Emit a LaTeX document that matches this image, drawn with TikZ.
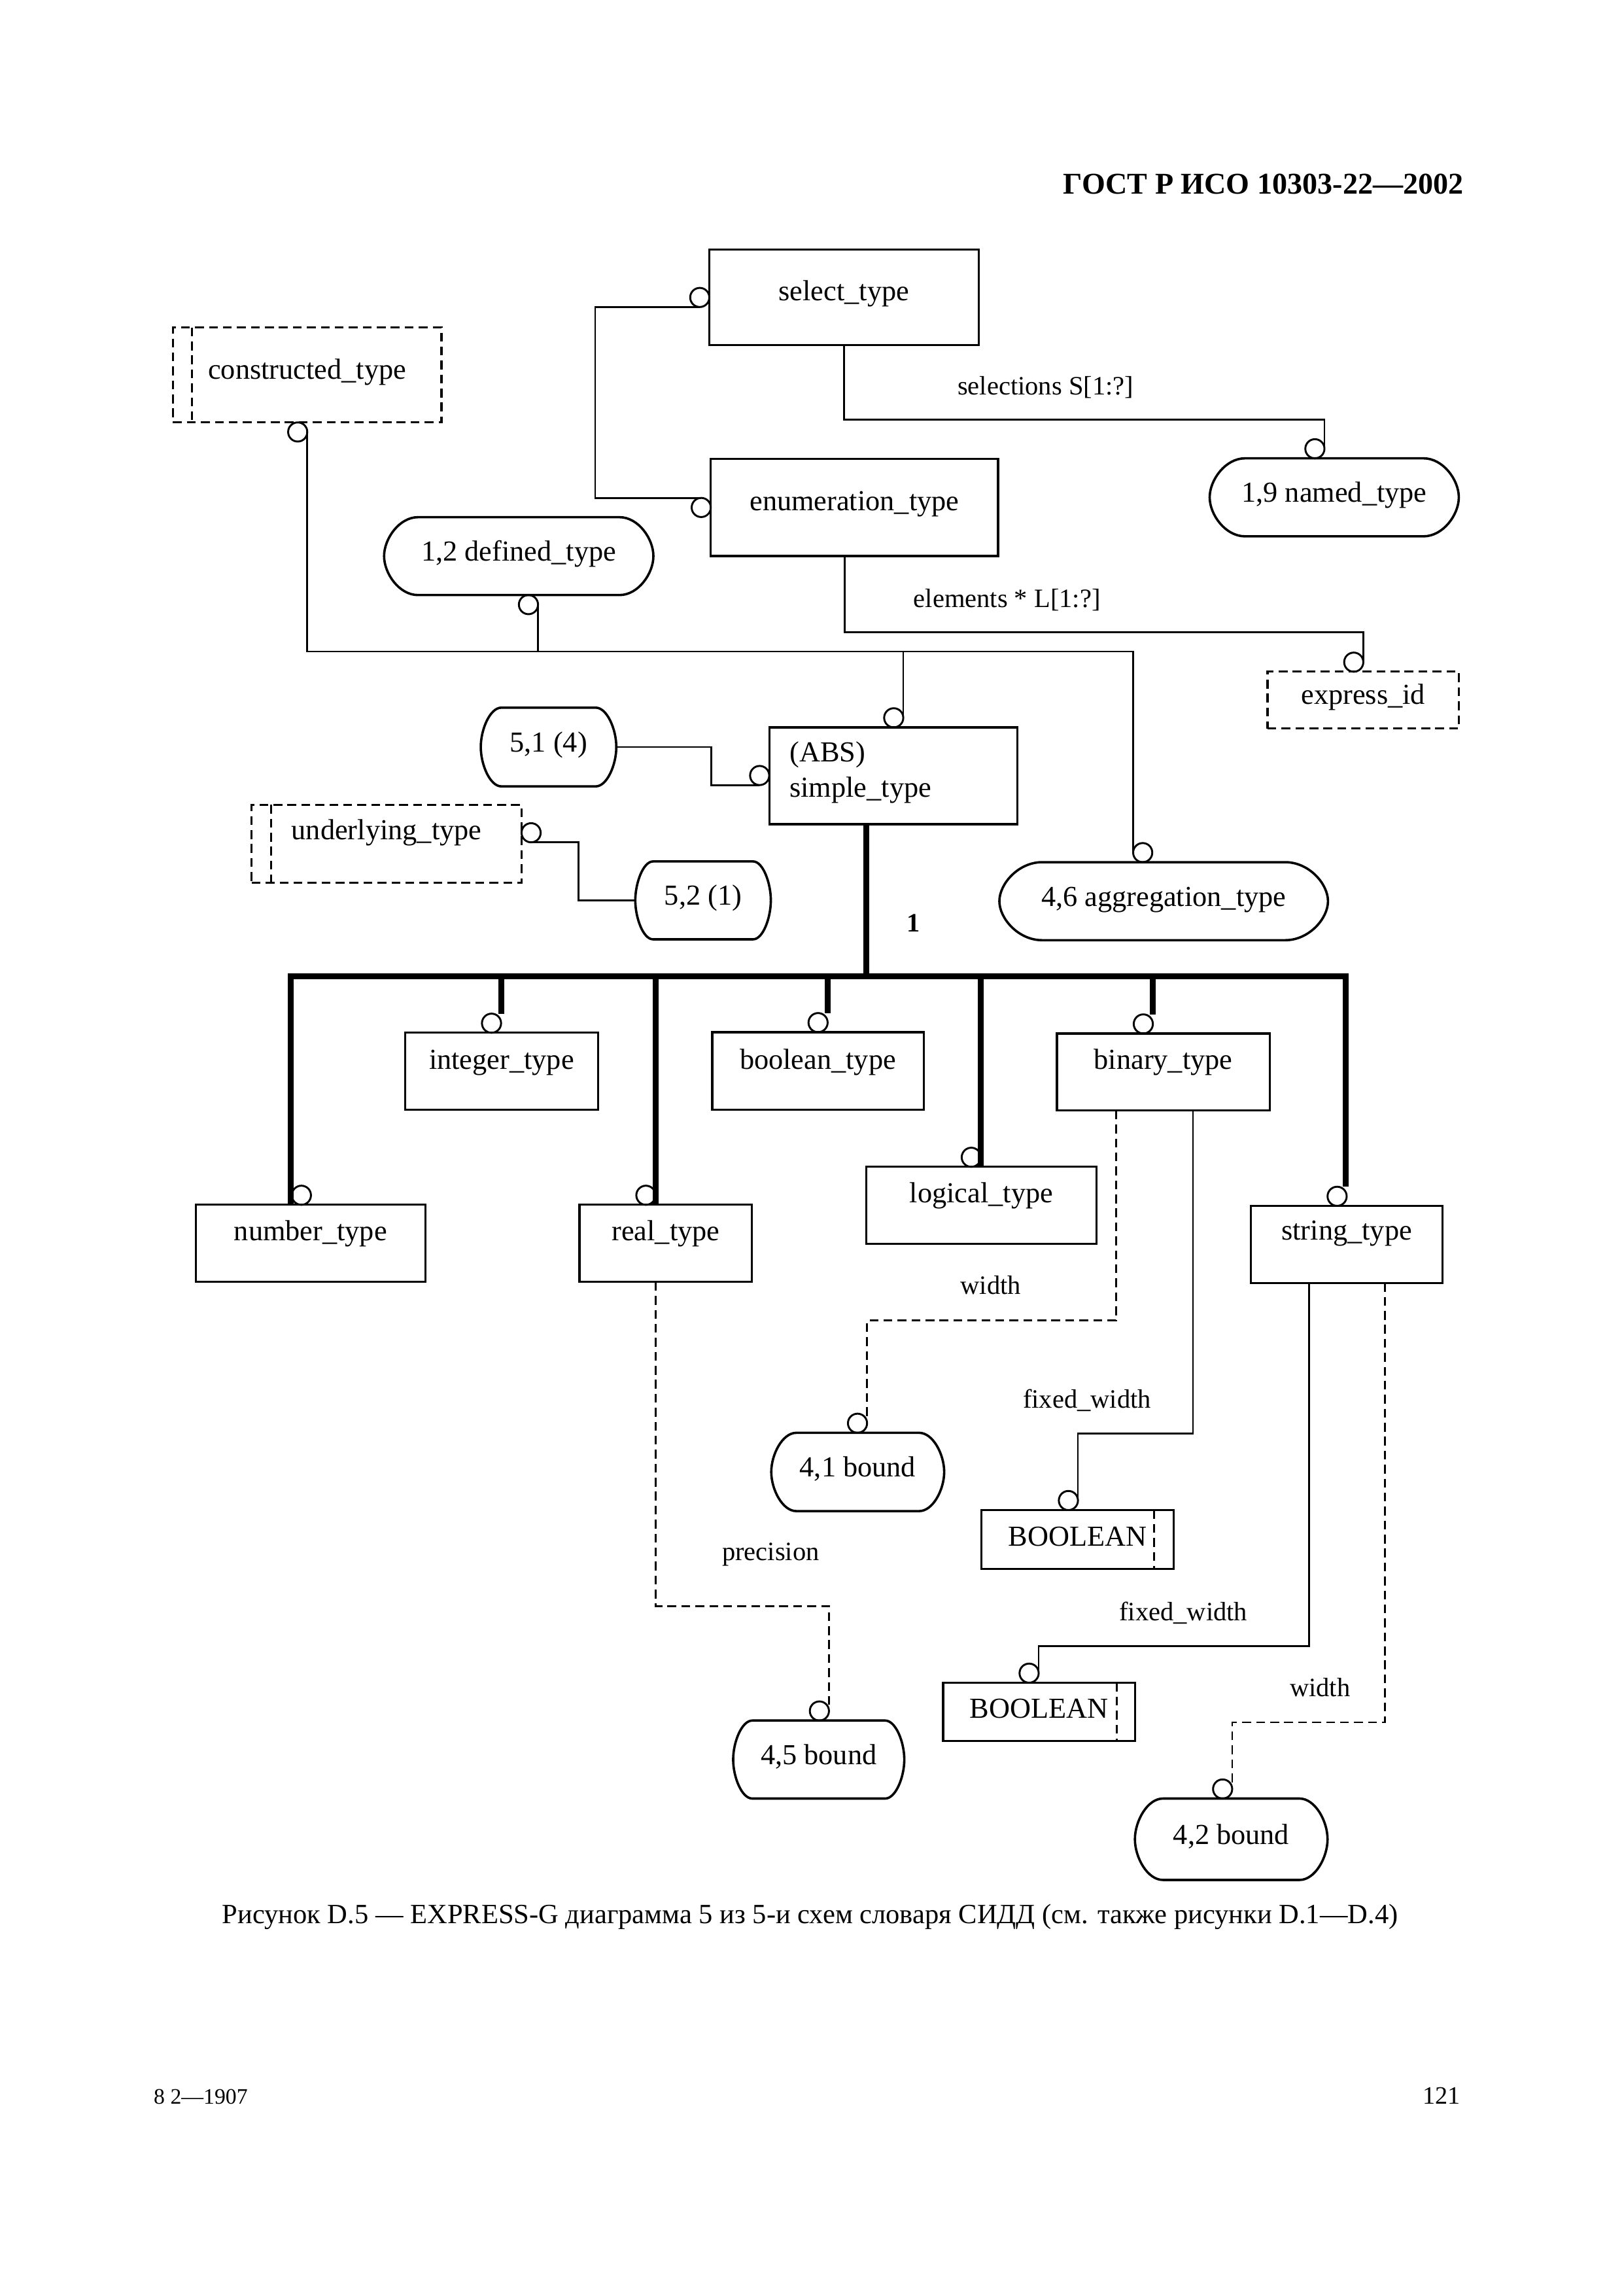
\documentclass[tikz,border=0pt]{standalone}
\usepackage{fontspec}
\setmainfont{Liberation Serif}
\newcommand\ebox[8]{%
  \pgfmathsetmacro\bxw{#5-#3}%
  \pgfmathsetmacro\bxh{#7-#4}%
  \pgfmathsetmacro\bxd{#6-#7}%
  \node[#1, anchor=north west, minimum width=\bxw pt, text height=\bxh pt, text depth=\bxd pt] (#2) at (#3,#4) {#8};%
}
\newcommand\stad[7]{%
  \pgfmathsetmacro\bxw{#4-#2}%
  \pgfmathsetmacro\bxh{#5-#3}%
  \node[inner sep=0pt, outer sep=0pt, minimum width=\bxw pt, minimum height=\bxh pt, text height=12pt, text depth=5.4pt] (#1) at ({(#2+#4)/2},{(#3+#5)/2}) {#7};%
  \draw[stadline] ({#2+#6},#3) -- ({#4-#6},#3)
    .. controls ({#4-#6+0.5523*#6},#3) and (#4,{#3+0.5523*(#5-#3)/2}) .. (#4,{(#3+#5)/2})
    .. controls (#4,{#5-0.5523*(#5-#3)/2}) and ({#4-#6+0.5523*#6},#5) .. ({#4-#6},#5)
    -- ({#2+#6},#5)
    .. controls ({#2+#6-0.5523*#6},#5) and (#2,{#5-0.5523*(#5-#3)/2}) .. (#2,{(#3+#5)/2})
    .. controls (#2,{#3+0.5523*(#5-#3)/2}) and ({#2+#6-0.5523*#6},#3) .. ({#2+#6},#3) -- cycle;%
}
\begin{document}
\begin{tikzpicture}[x=1pt,y=-1pt,
  every node/.style={font=\fontsize{19.7}{24.1}\selectfont},
  box/.style={draw, line width=1.4pt, inner sep=0pt, outer sep=0pt},
  dbox/.style={box, dash pattern=on 6pt off 3.5pt},
  stadline/.style={line width=1.6pt},
  conn/.style={line width=1.2pt},
  dconn/.style={line width=1.2pt, dash pattern=on 6pt off 3.5pt},
  innerdash/.style={line width=1.3pt, dash pattern=on 6pt off 3.5pt},
  treeline/.style={line width=4pt},
  endc/.style={draw, circle, minimum size=13pt, inner sep=0pt, outer sep=0pt, line width=1.3pt, anchor=center},
  cSE/.style={endc, xshift=-6.5pt, yshift=6.5pt},
  cNE/.style={endc, xshift=-6.5pt, yshift=-6.5pt},
  cSW/.style={endc, xshift=6.5pt, yshift=6.5pt},
  lbl/.style={font=\fontsize{18}{21}\selectfont, anchor=base}]
\path[use as bounding box, fill=white] (0,0) rectangle (1103.5,1560);

% header, caption, footer
\node[anchor=base east, font=\fontsize{20.5}{24}\selectfont\bfseries] (hdr) at (998,131.8) {ГОСТ Р ИСО 10303-22—2002};
\node[anchor=base, font=\fontsize{18.9}{22}\selectfont] (cap) at (550.5,1306.8) {Рисунок D.5 — EXPRESS-G диаграмма 5 из 5-и схем словаря СИДД (см. также рисунки D.1—D.4)};
\node[anchor=base west, font=\fontsize{15}{18}\selectfont] (ft1) at (101,1429.6) {8 2—1907};
\node[anchor=base east, font=\fontsize{17}{20}\selectfont] (ft2) at (996,1429.6) {121};

% boxes
\ebox{box}{sel}{482}{169.5}{665}{234.5}{204.2}{select\_type}
\ebox{box}{enu}{483}{311.8}{678.2}{377.8}{347}{enumeration\_type}
\ebox{dbox}{con}{117.5}{222.5}{300}{287}{257.6}{constructed\_type}
\ebox{dbox}{exp}{861.3}{456.4}{991.3}{495}{478.5}{express\_id}
\ebox{dbox}{und}{171}{546.8}{354.4}{599.8}{570.4}{underlying\_type}
\ebox{box}{int}{275.4}{701.7}{406.3}{754}{726.3}{integer\_type}
\ebox{box}{boo}{484}{701.3}{627.6}{754}{726.3}{boolean\_type}
\ebox{box}{bin}{718.2}{702.2}{862.7}{754.6}{726.5}{binary\_type}
\ebox{box}{num}{133.1}{818.6}{289}{871}{843}{number\_type}
\ebox{box}{rea}{393.8}{818.6}{511}{871}{843}{real\_type}
\ebox{box}{lgc}{588.7}{792.8}{745.1}{845.2}{817.1}{logical\_type}
\ebox{box}{str}{850}{819.3}{980.3}{871.7}{842.5}{string\_type}
\ebox{box}{bo1}{666.8}{1026}{797.6}{1066}{1050.4}{BOOLEAN}
\ebox{box}{bo2}{640.9}{1143.3}{771.2}{1182.7}{1167.4}{BOOLEAN}
\node[box, anchor=north west, minimum width=168.7pt, text height=23.4pt, text depth=42.4pt] (sim) at (522.7,494.2) {\parbox[t]{140.9pt}{\raggedright (ABS)\\simple\_type}};

% inner double lines
\draw[innerdash] ([xshift=12.8pt]con.north west) -- ([xshift=12.8pt]con.south west);
\draw[innerdash] ([xshift=13.2pt]und.north west) -- ([xshift=13.2pt]und.south west);
\draw[innerdash] ([xshift=-13.4pt]bo1.north east) -- ([xshift=-13.4pt]bo1.south east);
\draw[innerdash] ([xshift=-12.5pt]bo2.north east) -- ([xshift=-12.5pt]bo2.south east);

% stadium shapes
\stad{nam}{822}{311.4}{991.3}{364.4}{24}{1,9 named\_type}
\stad{dft}{261}{351.4}{444}{404.3}{23}{1,2 defined\_type}
\stad{p51}{326.7}{480.8}{418.8}{534.3}{14}{5,1 (4)}
\stad{p52}{431.7}{585.3}{523.8}{638.2}{12}{5,2 (1)}
\stad{agg}{679.1}{585.8}{902.4}{638.8}{29}{4,6 aggregation\_type}
\stad{b41}{524.1}{973.5}{641.6}{1026.7}{17}{4,1 bound}
\stad{b45}{498.2}{1169}{614.5}{1222}{13}{4,5 bound}
\stad{b42}{771.2}{1222}{902.1}{1277.3}{19}{4,2 bound}

% select / enumeration link
\coordinate (ka) at (404.5,208.6);
\coordinate (kb) at (404.5,338.3);
\node[cSE] (csel) at (sel.west |- ka) {};
\node[cNE] (cenu) at (enu.west |- kb) {};
\draw[conn] (csel.south) -- (ka) -- (kb) -- (cenu.north);

% select -> named_type
\coordinate (kc) at (573.5,285.1);
\coordinate (kd) at (900,285.1);
\node[cSE] (cnam) at (kd |- nam.north) {};
\draw[conn] (sel.south) -- (kc) -- (kd) -- (cnam.east);
\node[lbl] (lsel) at (710.5,268.1) {selections S[1:?]};

% enumeration -> express_id
\coordinate (ke) at (574,429.7);
\coordinate (kf) at (926.4,429.7);
\node[cSE] (cexp) at (kf |- exp.north) {};
\draw[conn] (ke |- enu.south) -- (ke) -- (kf) -- (cexp.east);
\node[lbl] (lenu) at (684.3,412.7) {elements * L[1:?]};

% constructed_type tree
\coordinate (kg) at (208.8,442.7);
\coordinate (kh) at (770,442.7);
\coordinate (ki) at (365.6,442.7);
\coordinate (kj) at (613.8,442.7);
\node[cNE] (ccon) at (kg |- con.south) {};
\node[cSW] (cagg) at (kh |- agg.north) {};
\node[cNE] (cdef) at (ki |- dft.south) {};
\node[cSE] (csim) at (kj |- sim.north) {};
\draw[conn] (ccon.east) -- (kg) -- (kh) -- (cagg.west);
\draw[conn] (cdef.east) -- (ki);
\draw[conn] (kj) -- (csim.east);

% 5,1 (4) -> simple_type
\coordinate (kk) at (483.3,507.55);
\coordinate (kl) at (483.3,533.4);
\node[cSE] (csim2) at (sim.west |- kl) {};
\draw[conn] (p51.east) -- (kk) -- (kl) -- (csim2.south);

% underlying_type -> 5,2 (1)
\coordinate (km) at (393,572.3);
\coordinate (kn) at (393,611.75);
\node[cSW] (cund) at (und.east |- km) {};
\draw[conn] (cund.south) -- (km) -- (kn) -- (p52.west);

% supertype tree (thick)
\coordinate (t0) at (588.8,663.5);
\coordinate (tl) at (197.5,663.5);
\coordinate (tr) at (914.5,663.5);
\coordinate (ti) at (340.5,663.5);
\coordinate (tb) at (562.4,663.5);
\coordinate (te) at (445.4,663.5);
\coordinate (tg) at (666.5,663.5);
\coordinate (tn) at (783.4,663.5);
\node[cSW] (cnum) at ([xshift=0.8pt]tl |- num.north) {};
\node[cSE] (cstr) at ([xshift=0.6pt]tr |- str.north) {};
\node[cSE] (cint) at (ti |- int.north) {};
\node[cSE] (cboo) at (tb |- boo.north) {};
\node[cSE] (crea) at (te |- rea.north) {};
\node[cSE] (clgc) at (tg |- lgc.north) {};
\node[cSE] (cbin) at (tn |- bin.north) {};
\draw[treeline] (t0 |- sim.south) -- (t0);
\draw[treeline] (tl |- num.north) -- (tl) -- (tr) -- (tr |- cstr.north);
\draw[treeline] (ti) -- (ti |- cint.north);
\draw[treeline] (tb) -- (tb |- cboo.north);
\draw[treeline] (te) -- (te |- rea.north);
\draw[treeline] (tg) -- (tg |- lgc.north);
\draw[treeline] (tn) -- (tn |- cbin.north);
\node[lbl, font=\fontsize{18}{21}\selectfont\bfseries] (lone) at (620.5,633.3) {1};

% real_type -> 4,5 bound
\coordinate (ko) at (445.7,1091.2);
\coordinate (kp) at (563.3,1091.2);
\node[cSE] (cb45) at (kp |- b45.north) {};
\draw[dconn] (ko |- rea.south) -- (ko) -- (kp) -- (cb45.east);
\node[lbl] (lprec) at (523.7,1060.2) {precision};

% binary_type -> 4,1 bound
\coordinate (kq) at (758.3,897.2);
\coordinate (kr) at (589.2,897.2);
\node[cSE] (cb41) at (kr |- b41.north) {};
\draw[dconn] (kq |- bin.south) -- (kq) -- (kr) -- (cb41.east);
\node[lbl] (lw1) at (673.2,879.3) {width};

% binary_type -> BOOLEAN
\coordinate (ks) at (810.6,974.1);
\coordinate (kt) at (732.5,974.1);
\node[cSE] (cbo1) at (kt |- bo1.north) {};
\draw[conn] (ks |- bin.south) -- (ks) -- (kt) -- (cbo1.east);
\node[lbl] (lfw1) at (738.7,956.6) {fixed\_width};

% string_type -> BOOLEAN
\coordinate (ku) at (889.4,1118.3);
\coordinate (kv) at (705.8,1118.3);
\node[cSE] (cbo2) at (kv |- bo2.north) {};
\draw[conn] (ku |- str.south) -- (ku) -- (kv) -- (cbo2.east);
\node[lbl] (lfw2) at (804.1,1101) {fixed\_width};

% string_type -> 4,2 bound
\coordinate (kw) at (941.1,1170.2);
\coordinate (kx) at (837.3,1170.2);
\node[cSE] (cb42) at (kx |- b42.north) {};
\draw[dconn] (kw |- str.south) -- (kw) -- (kx) -- (cb42.east);
\node[lbl] (lw2) at (897,1152.6) {width};
\end{tikzpicture}
\end{document}
